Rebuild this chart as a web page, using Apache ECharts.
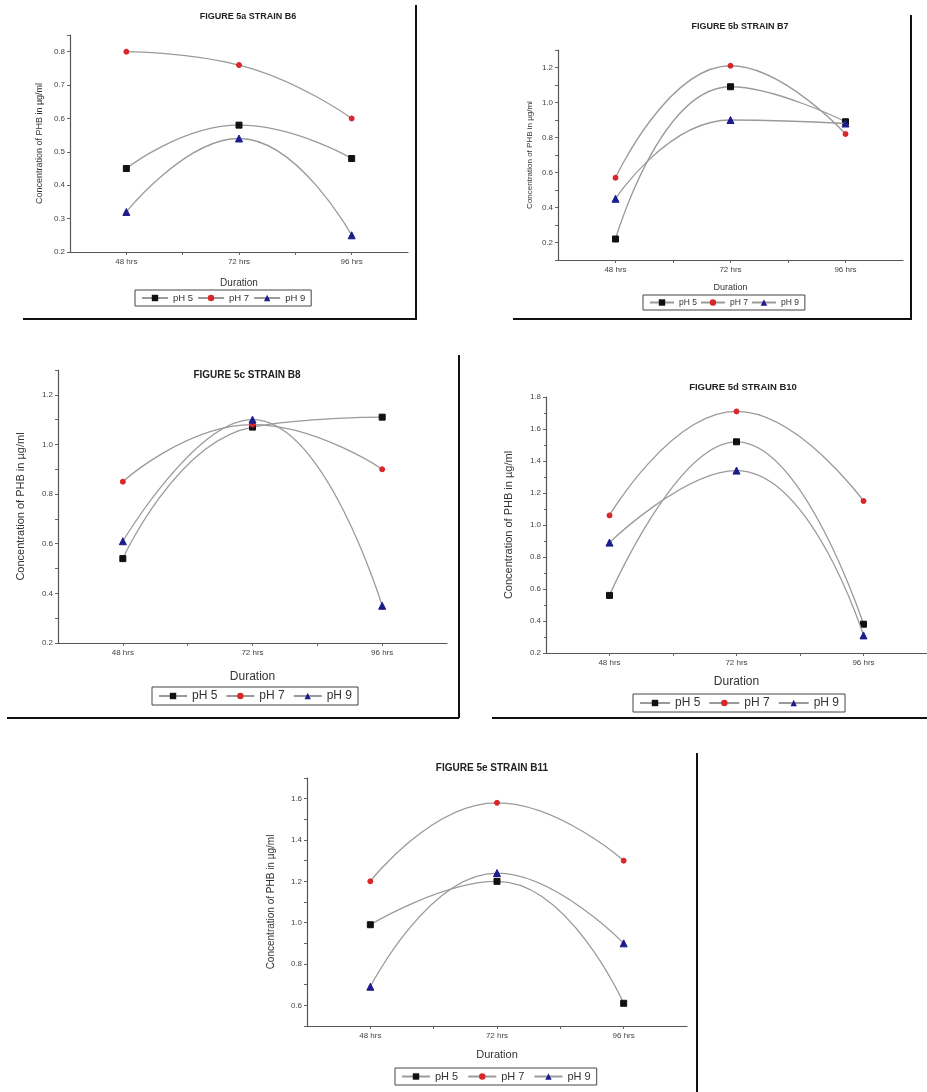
<!DOCTYPE html>
<html>
<head>
<meta charset="utf-8">
<script src="https://cdn.jsdelivr.net/npm/echarts@6/dist/echarts.min.js"></script>
<style>
html,body{margin:0;padding:0;background:#fff;}
#chart{width:927px;height:1092px;}
</style>
</head>
<body>
<div id="chart"></div>
<script>
// ---- data ----
const categories = ['48 hrs', '72 hrs', '96 hrs'];
const seriesNames = ['pH 5', 'pH 7', 'pH 9'];
const panelTitles = ['FIGURE 5a STRAIN B6', 'FIGURE 5b STRAIN B7', 'FIGURE 5c STRAIN B8', 'FIGURE 5d STRAIN B10', 'FIGURE 5e STRAIN B11'];
const xTitle = 'Duration';
const yTitle = 'Concentration of PHB in \u00b5g/ml';

const b6_pH5 = [0.45, 0.58, 0.48];
const b6_pH7 = [0.80, 0.76, 0.60];
const b6_pH9 = [0.32, 0.54, 0.25];

const b7_pH5 = [0.22, 1.09, 0.89];
const b7_pH7 = [0.57, 1.21, 0.82];
const b7_pH9 = [0.45, 0.90, 0.88];

const b8_pH5 = [0.54, 1.07, 1.11];
const b8_pH7 = [0.85, 1.08, 0.90];
const b8_pH9 = [0.61, 1.10, 0.35];

const b10_pH5 = [0.56, 1.52, 0.38];
const b10_pH7 = [1.06, 1.71, 1.15];
const b10_pH9 = [0.89, 1.34, 0.31];

const b11_pH5 = [0.99, 1.20, 0.61];
const b11_pH7 = [1.20, 1.58, 1.30];
const b11_pH9 = [0.69, 1.24, 0.90];

const panelData = [
  [b6_pH5, b6_pH7, b6_pH9],
  [b7_pH5, b7_pH7, b7_pH9],
  [b8_pH5, b8_pH7, b8_pH9],
  [b10_pH5, b10_pH7, b10_pH9],
  [b11_pH5, b11_pH7, b11_pH9]
];

// ---- layout / style ----
const FONT = '"Liberation Sans", Arial, sans-serif';
const layout = [
  {grid:{left:70, top:35, width:338, height:217}, y:{min:0.2, max:0.85, interval:0.1, all:true}, tx:248, ty:17, tf:9, xg:26, yg:26, nf:10, lg:{left:135, top:290, fs:9.5, iw:26, gap:4}},
  {grid:{left:558, top:50, width:345, height:210}, y:{min:0.1, max:1.3, interval:0.1}, tx:740, ty:27, tf:9, xg:23, yg:24, nf:9, lg:{left:643, top:295, fs:8.5, iw:24, gap:3}},
  {grid:{left:58, top:370, width:389, height:273}, y:{min:0.2, max:1.3, interval:0.1}, tx:247, ty:375, tf:10, xg:28, yg:32, nf:12, lg:{left:152, top:687, fs:12, iw:28, gap:8}},
  {grid:{left:546, top:397, width:384, height:256}, y:{min:0.2, max:1.8, interval:0.2, all:true, minor:true}, tx:743, ty:387, tf:9.5, xg:23, yg:32, nf:12, lg:{left:633, top:694, fs:12, iw:30, gap:8}},
  {grid:{left:307, top:778, width:380, height:248}, y:{min:0.5, max:1.7, interval:0.1}, tx:492, ty:768, tf:10, xg:23, yg:31, nf:11, lg:{left:395, top:1068, fs:11, iw:28, gap:9}}
];

const markerStyles = [
  {symbol:'rect', size:6, color:'#111111'},
  {symbol:'circle', size:5, color:'#d8262a'},
  {symbol:'triangle', size:7, color:'#1c1c8c'}
];

const grids = [], xAxes = [], yAxes = [], series = [], legends = [], graphics = [];

layout.forEach((L, p) => {
  grids.push(Object.assign({containLabel:false}, L.grid));
  xAxes.push({
    type:'value', gridIndex:p, min:0.5, max:3.5, interval:0.5,
    name:xTitle, nameLocation:'middle', nameGap:L.xg,
    nameTextStyle:{fontFamily:FONT, fontSize:L.nf, color:'#333'},
    axisLine:{lineStyle:{color:'#555', width:1.2}},
    axisTick:{length:3, lineStyle:{color:'#666'}},
    axisLabel:{fontFamily:FONT, fontSize:8, color:'#444', margin:6, showMinLabel:false, showMaxLabel:false,
      formatter:(v)=> (Math.abs(v - Math.round(v)) < 1e-6 && v >= 1 && v <= categories.length) ? categories[Math.round(v)-1] : ''},
    splitLine:{show:false}
  });
  yAxes.push({
    type:'value', gridIndex:p, min:L.y.min, max:L.y.max, interval:L.y.interval,
    name:yTitle, nameLocation:'middle', nameGap:L.yg, nameRotate:90,
    nameTextStyle:{fontFamily:FONT, fontSize:L.nf - 1, color:'#333'},
    axisLine:{show:true, lineStyle:{color:'#555', width:1.2}},
    axisTick:{show:true, length:3, lineStyle:{color:'#666'}},
    minorTick:{show:!!L.y.minor, splitNumber:2, length:2, lineStyle:{color:'#666'}},
    axisLabel:{fontFamily:FONT, fontSize:8, color:'#444', margin:5, showMaxLabel: true,
      formatter:(v)=>{
        const t = v*10;
        if (Math.abs(t - Math.round(t)) > 1e-6) return '';
        const r = Math.round(t);
        if (!L.y.all && r % 2 !== 0) return '';
        return (r/10).toFixed(1);
      }},
    splitLine:{show:false}
  });
  panelData[p].forEach((vals, s) => {
    const m = markerStyles[s];
    series.push({
      type:'line', name:seriesNames[s], xAxisIndex:p, yAxisIndex:p,
      data: vals.map((v, i) => [i + 1, v]),
      smooth:0.5, symbol:m.symbol, symbolSize:m.size, showSymbol:true,
      lineStyle:{color:'#9a9a9a', width:1.3},
      itemStyle:{color:m.color, borderColor:m.color},
      emphasis:{disabled:true}, animation:false, z: 3 + s
    });
  });
  legends.push({
    left:L.lg.left, top:L.lg.top, orient:'horizontal', data:seriesNames,
    borderColor:'#444', borderWidth:1, padding:[3,6], itemGap:L.lg.gap, itemWidth:L.lg.iw, itemHeight:8,
    textStyle:{fontFamily:FONT, fontSize:L.lg.fs, color:'#333'}, selectedMode:false
  });
  graphics.push({
    type:'text', x:L.tx, y:L.ty, silent:true,
    style:{text:panelTitles[p], fill:'#222', font:'bold ' + L.tf + 'px ' + FONT, textAlign:'center', textVerticalAlign:'middle'}
  });
});

// page frame lines around the panels
const frameLines = [
  [416, 5, 416, 320], [23, 319, 416, 319],
  [911, 15, 911, 320], [513, 319, 911, 319],
  [459, 355, 459, 718], [7, 718, 459, 718],
  [492, 718, 927, 718],
  [697, 753, 697, 1092]
];
frameLines.forEach(f => graphics.push({
  type:'line', silent:true, shape:{x1:f[0], y1:f[1], x2:f[2], y2:f[3]},
  style:{stroke:'#111', lineWidth:2}
}));

const chart = echarts.init(document.getElementById('chart'), null, {renderer:'canvas'});
chart.setOption({
  backgroundColor:'#ffffff',
  animation:false,
  grid:grids, xAxis:xAxes, yAxis:yAxes, series:series, legend:legends,
  graphic:graphics
});
</script>
</body>
</html>
